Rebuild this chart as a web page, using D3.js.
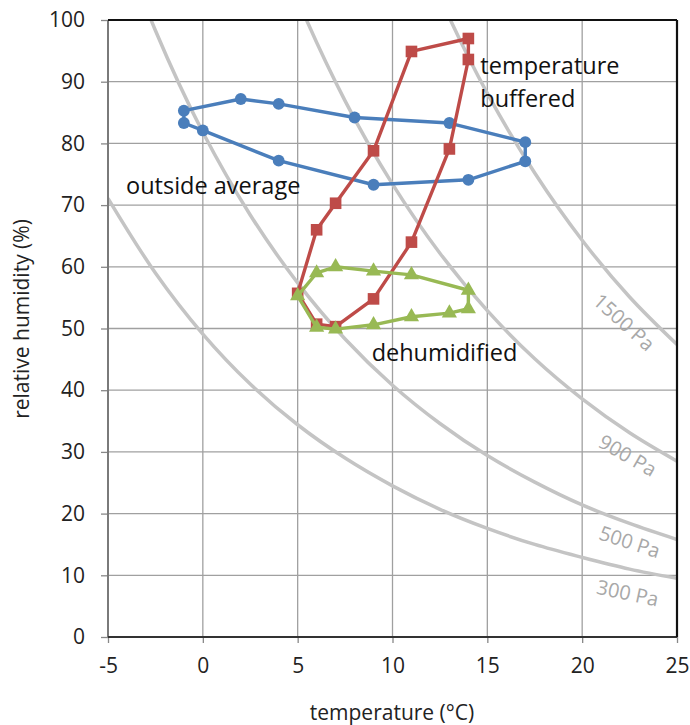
<!DOCTYPE html>
<html>
<head>
<meta charset="utf-8">
<script src="https://cdn.jsdelivr.net/npm/d3@7"></script>
<style>
  body { margin: 0; background: #fff; }
  text { font-family: "Open Sans", "Noto Sans", sans-serif; }
</style>
</head>
<body>
<div id="chart"></div>
<script>
// ticks
const tempTicks = [-5, 0, 5, 10, 15, 20, 25];
const rhTicks = [0, 10, 20, 30, 40, 50, 60, 70, 80, 90, 100];

// outside average (monthly loop)
const outsideT  = [-1, 2, 4, 8, 13, 17, 17, 14, 9, 4, 0, -1];
const outsideRH = [85.3, 87.2, 86.4, 84.2, 83.3, 80.2, 77.1, 74.1, 73.3, 77.2, 82.1, 83.3];

// temperature buffered
const bufferedT  = [5, 6, 7, 9, 11, 14, 14, 13, 11, 9, 7, 6];
const bufferedRH = [55.7, 66.0, 70.3, 78.8, 94.9, 97.0, 93.6, 79.1, 64.0, 54.8, 50.3, 50.7];

// dehumidified
const dehumT  = [5, 6, 7, 9, 11, 14, 14, 13, 11, 9, 7, 6];
const dehumRH = [55.3, 59.0, 60.0, 59.3, 58.7, 56.2, 53.2, 52.5, 51.9, 50.6, 49.9, 50.2];

// constant vapour pressure lines
const isoT300  = [-5, -2.5, 0, 2.5, 5, 7.5, 10, 12.5, 15, 17.5, 20, 22.5, 25];
const isoRH300 = [71.1, 59.0, 49.1, 41.0, 34.4, 29.0, 24.5, 20.7, 17.6, 15.0, 12.9, 11.0, 9.5];
const isoT500  = [-5, -2.5, 0, 2.5, 5, 7.5, 10, 12.5, 15, 17.5, 20, 22.5, 25];
const isoRH500 = [118.5, 98.3, 81.8, 68.4, 57.4, 48.3, 40.8, 34.6, 29.4, 25.1, 21.4, 18.4, 15.8];
const isoT900  = [2.5, 5, 7.5, 10, 12.5, 15, 17.5, 20, 22.5, 25];
const isoRH900 = [123.1, 103.3, 86.9, 73.4, 62.2, 52.9, 45.1, 38.6, 33.1, 28.5];
const isoT1500  = [10, 12.5, 15, 17.5, 20, 22.5, 25];
const isoRH1500 = [122.3, 103.7, 88.1, 75.2, 64.3, 55.1, 47.4];

const isoNames = ["300 Pa", "500 Pa", "900 Pa", "1500 Pa"];
const isoLabelT  = [22.4, 22.5, 22.4, 22.2];
const isoLabelRH = [7.1, 15.4, 29.4, 51.0];
const isoLabelRot = [12, 18, 30, 42];

const W = 690, H = 725;
const margin = {top: 20, right: 13, bottom: 88, left: 108};
const width = W - margin.left - margin.right,
      height = H - margin.top - margin.bottom;

const svg = d3.select("#chart").append("svg")
    .attr("width", W)
    .attr("height", H);

const g = svg.append("g")
    .attr("transform", `translate(${margin.left},${margin.top})`);

const x = d3.scaleLinear().domain([-5, 25]).range([0, width]);
const y = d3.scaleLinear().domain([0, 100]).range([height, 0]);

g.append("clipPath").attr("id", "plotclip")
  .append("rect").attr("width", width).attr("height", height);

// grid
g.append("g")
  .selectAll("line")
  .data(tempTicks)
  .join("line")
    .attr("x1", d => x(d)).attr("x2", d => x(d))
    .attr("y1", 0).attr("y2", height)
    .attr("stroke", "#a0a0a0").attr("stroke-width", 1.3);

g.append("g")
  .selectAll("line")
  .data(rhTicks)
  .join("line")
    .attr("y1", d => y(d)).attr("y2", d => y(d))
    .attr("x1", 0).attr("x2", width)
    .attr("stroke", "#a0a0a0").attr("stroke-width", 1.3);

// axes
const xAxis = g.append("g")
  .attr("transform", `translate(0,${height})`)
  .call(d3.axisBottom(x).tickValues(tempTicks).tickFormat(d => String(d)).tickSize(6).tickPadding(15));
const yAxis = g.append("g")
  .call(d3.axisLeft(y).tickValues(rhTicks).tickFormat(d => String(d)).tickSize(7).tickPadding(16));

[xAxis, yAxis].forEach(a => {
  a.select(".domain").remove();
  a.selectAll(".tick line").attr("stroke", "#888").attr("stroke-width", 1.3);
  a.selectAll("text").style("font-size", "21px").attr("fill", "#222")
    .style("font-family", "'Open Sans', sans-serif");
});

// iso-lines
const isoSets = [
  [isoT300, isoRH300],
  [isoT500, isoRH500],
  [isoT900, isoRH900],
  [isoT1500, isoRH1500]
];
const isoLine = d3.line()
  .x(d => x(d[0])).y(d => y(d[1]))
  .curve(d3.curveCatmullRom);

g.append("g").attr("clip-path", "url(#plotclip)")
  .selectAll("path")
  .data(isoSets)
  .join("path")
    .attr("d", s => isoLine(s[0].map((t, i) => [t, s[1][i]])))
    .attr("fill", "none")
    .attr("stroke", "#c4c4c4")
    .attr("stroke-width", 3.5);

g.append("g")
  .selectAll("text")
  .data(isoNames)
  .join("text")
    .attr("transform", (d, i) => `translate(${x(isoLabelT[i])},${y(isoLabelRH[i])}) rotate(${isoLabelRot[i]})`)
    .attr("text-anchor", "middle")
    .attr("dy", "0.35em")
    .style("font-size", "20px")
    .attr("fill", "#a8a8a8")
    .text(d => d);

// plot border
g.append("line").attr("x1", 0).attr("x2", 0).attr("y1", 0).attr("y2", height)
  .attr("stroke", "#7a7a7a").attr("stroke-width", 2);
g.append("line").attr("x1", 0).attr("x2", width).attr("y1", height).attr("y2", height)
  .attr("stroke", "#333").attr("stroke-width", 2);
g.append("line").attr("x1", 0).attr("x2", width).attr("y1", 0).attr("y2", 0)
  .attr("stroke", "#111").attr("stroke-width", 2.2);
g.append("line").attr("x1", width).attr("x2", width).attr("y1", 0).attr("y2", height)
  .attr("stroke", "#111").attr("stroke-width", 2.2);

// series
const loop = d3.line().x(d => x(d[0])).y(d => y(d[1])).curve(d3.curveLinearClosed);

const series = [
  {name: "outside", t: outsideT, rh: outsideRH, color: "#4a7ebb", sym: d3.symbolCircle, size: 110},
  {name: "buffered", t: bufferedT, rh: bufferedRH, color: "#be4b48", sym: d3.symbolSquare, size: 135},
  {name: "dehum", t: dehumT, rh: dehumRH, color: "#98b954", sym: d3.symbolTriangle, size: 100}
];

series.forEach(s => {
  const pts = s.t.map((t, i) => [t, s.rh[i]]);
  g.append("path")
    .attr("d", loop(pts))
    .attr("fill", "none")
    .attr("stroke", s.color)
    .attr("stroke-width", 3.4)
    .attr("stroke-linejoin", "round");
  g.append("g")
    .selectAll("path")
    .data(pts)
    .join("path")
      .attr("transform", d => `translate(${x(d[0])},${y(d[1])})`)
      .attr("d", d3.symbol(s.sym, s.size))
      .attr("fill", s.color);
});

// annotations
const note = (tx, ty, lines) => {
  const t = g.append("text")
    .attr("x", tx).attr("y", ty)
    .style("font-size", "23.5px")
    .attr("fill", "#111");
  lines.forEach((l, i) => t.append("tspan").attr("x", tx).attr("dy", i ? 33 : 0).text(l));
};
note(x(14.63), y(91.3), ["temperature", "buffered"]);
note(x(-4.05), y(71.8), ["outside average"]);
note(x(8.9), y(44.7), ["dehumidified"]);

// axis titles
svg.append("text")
  .attr("x", 392).attr("y", 720)
  .attr("text-anchor", "middle")
  .style("font-size", "21px").attr("fill", "#222")
  .text("temperature (°C)");

svg.append("text")
  .attr("transform", `translate(29,319) rotate(-90)`)
  .attr("text-anchor", "middle")
  .style("font-size", "21px").attr("fill", "#222")
  .text("relative humidity (%)");
</script>
</body>
</html>
